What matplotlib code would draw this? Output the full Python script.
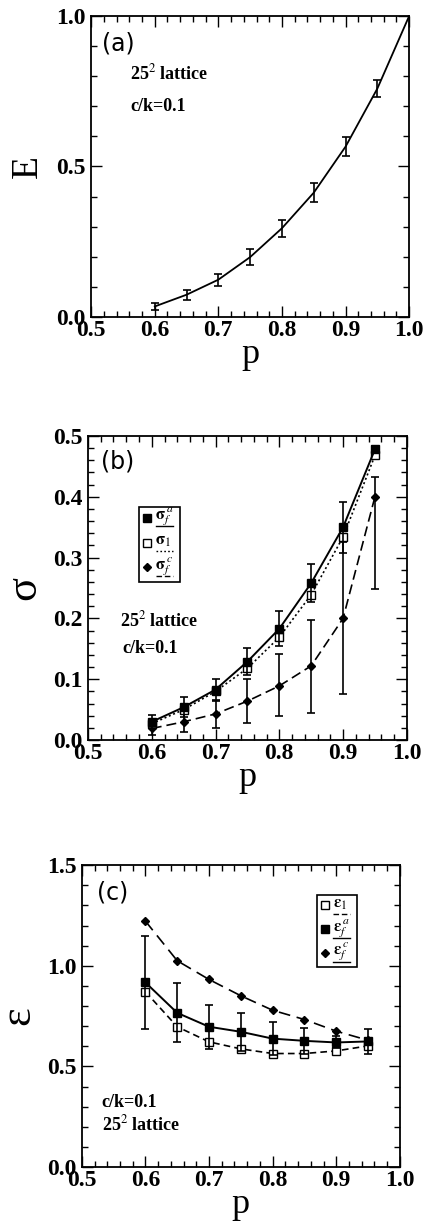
import matplotlib.pyplot as plt
from matplotlib.ticker import MultipleLocator
from matplotlib.patches import Rectangle

plt.rcParams['font.family'] = ['Liberation Serif', 'DejaVu Serif']
plt.rcParams['mathtext.fontset'] = 'stix'

# ---- datos ----
p = [0.6, 0.65, 0.7, 0.75, 0.8, 0.85, 0.9, 0.95]

# (a) E vs p
p_a = [0.6, 0.65, 0.7, 0.75, 0.8, 0.85, 0.9, 0.95, 1.0]
E = [0.035, 0.074, 0.124, 0.199, 0.295, 0.413, 0.566, 0.759, 1.0]
E_err = [0.013, 0.017, 0.02, 0.026, 0.028, 0.031, 0.031, 0.027]

# (b) sigma vs p
sig_fa = [0.030, 0.054, 0.083, 0.129, 0.183, 0.258, 0.350, 0.478]
sig_fa_err = [0.011, 0.016, 0.018, 0.022, 0.029, 0.031, 0.042, 0.0]
sig_1 = [0.027, 0.050, 0.080, 0.118, 0.169, 0.239, 0.334, 0.468]
sig_fc = [0.019, 0.030, 0.043, 0.064, 0.089, 0.122, 0.200, 0.400]
sig_fc_lo = [0.010, 0.016, 0.024, 0.036, 0.050, 0.077, 0.125, 0.152]
sig_fc_hi = [0.009, 0.014, 0.023, 0.036, 0.052, 0.075, 0.125, 0.032]

# (c) epsilon vs p
eps_1 = [0.871, 0.697, 0.622, 0.587, 0.564, 0.564, 0.577, 0.602]
eps_fa = [0.917, 0.766, 0.697, 0.672, 0.638, 0.627, 0.619, 0.624]
eps_fa_err = [0.232, 0.146, 0.11, 0.095, 0.082, 0.066, 0.03, 0.06]
eps_fc = [1.222, 1.025, 0.932, 0.851, 0.779, 0.733, 0.675, 0.630]


def estilo(ax, ymax, ymajor, yminor):
    ax.set_xlim(0.5, 1.0)
    ax.set_ylim(0, ymax)
    ax.xaxis.set_major_locator(MultipleLocator(0.1))
    ax.xaxis.set_minor_locator(MultipleLocator(0.02))
    ax.yaxis.set_major_locator(MultipleLocator(ymajor))
    ax.yaxis.set_minor_locator(MultipleLocator(yminor))
    ax.xaxis.set_major_formatter(lambda v, pos: f"{v:.1f}")
    ax.yaxis.set_major_formatter(lambda v, pos: f"{v:.1f}")
    ax.tick_params(which='both', direction='in', top=True, right=True, width=1.0)
    ax.tick_params(which='major', length=8, labelsize=17)
    ax.tick_params(which='minor', length=4)
    ax.tick_params(axis='x', pad=2)
    ax.tick_params(axis='y', pad=4)
    for lab in ax.get_xticklabels() + ax.get_yticklabels():
        lab.set_fontweight('bold')
    for s in ax.spines.values():
        s.set_linewidth(1.3)
    ax.set_xlabel('p', fontsize=26, labelpad=-2)


def leyenda(ax, x0, y0, x1, y1, entradas):
    ax.add_patch(Rectangle((x0, y0), x1 - x0, y1 - y0, transform=ax.transAxes,
                           facecolor='white', edgecolor='black', lw=1.2, zorder=10))
    n = len(entradas)
    h = (y1 - y0) / n
    for i, (mk, mfc, ms, texto, ls) in enumerate(entradas):
        yc = y1 - (i + 0.42) * h
        ax.plot([x0 + 0.025], [yc], marker=mk, mfc=mfc, mec='black', ms=ms,
                transform=ax.transAxes, zorder=11, clip_on=False)
        ax.text(x0 + 0.05, yc + 0.006, texto, transform=ax.transAxes, fontsize=12,
                fontweight='bold', va='center', ha='left', zorder=11)
        ax.plot([x0 + 0.052, x1 - 0.022], [yc - 0.028, yc - 0.028], color='black',
                ls=ls, lw=1.0, transform=ax.transAxes, zorder=11)


fig = plt.figure(figsize=(4.24, 12.22), dpi=100)

# ---------------- (a) ----------------
ax1 = fig.add_axes([0.215, 0.7406, 0.750, 0.2463])
estilo(ax1, 1.0, 0.5, 0.1)
ax1.plot(p_a, E, color='black', lw=1.3)
ax1.errorbar(p, E[:-1], yerr=E_err, fmt='none', ecolor='black', elinewidth=1.2,
             capsize=3, capthick=1.2)
ax1.set_ylabel('E', fontsize=27, labelpad=8)
ax1.text(0.035, 0.91, '(a)', transform=ax1.transAxes, fontsize=17,
         family=['DejaVu Sans'], va='center')
ax1.text(0.123, 0.81, r'25$^2$ lattice', transform=ax1.transAxes, fontsize=13,
         fontweight='bold', va='center')
ax1.text(0.123, 0.70, 'c/k=0.1', transform=ax1.transAxes, fontsize=13,
         fontweight='bold', va='center')

# ---------------- (b) ----------------
ax2 = fig.add_axes([0.2075, 0.3944, 0.752, 0.2488])
estilo(ax2, 0.5, 0.1, 0.02)
ax2.errorbar(p, sig_fa, yerr=sig_fa_err, fmt='s-', color='black', mfc='black',
             ms=6, lw=1.4, elinewidth=1.2, capsize=3, capthick=1.2, zorder=5)
ax2.plot(p, sig_1, 's', ls=(0, (1.2, 1.6)), color='black', mfc='white', ms=6,
         lw=1.2, zorder=4)
ax2.errorbar(p, sig_fc, yerr=[sig_fc_lo, sig_fc_hi], fmt='D', ls=(0, (6, 3)),
             color='black', mfc='black', ms=4, lw=1.2, elinewidth=1.2, capsize=3,
             capthick=1.2, zorder=3)
ax2.set_ylabel('σ', fontsize=32, labelpad=6)
ax2.text(0.04, 0.915, '(b)', transform=ax2.transAxes, fontsize=17,
         family=['DejaVu Sans'], va='center')
ax2.text(0.10, 0.395, r'25$^2$ lattice', transform=ax2.transAxes, fontsize=13,
         fontweight='bold', va='center')
ax2.text(0.107, 0.30, 'c/k=0.1', transform=ax2.transAxes, fontsize=13,
         fontweight='bold', va='center')
leyenda(ax2, 0.16, 0.52, 0.288, 0.766, [
    ('s', 'black', 6, r'$\mathbf{\sigma}_f^{\,a}$', '-'),
    ('s', 'white', 6, r'$\mathbf{\sigma}_1$', (0, (1.2, 1.6))),
    ('D', 'black', 4, r'$\mathbf{\sigma}_f^{\,c}$', (0, (4, 2))),
])

# ---------------- (c) ----------------
ax3 = fig.add_axes([0.193, 0.045, 0.750, 0.247])
estilo(ax3, 1.5, 0.5, 0.1)
ax3.plot(p, eps_fc, 'D', ls=(0, (7, 4)), color='black', mfc='black', ms=4,
         lw=1.2, zorder=3)
ax3.errorbar(p, eps_fa, yerr=eps_fa_err, fmt='s-', color='black', mfc='black',
             ms=6, lw=1.4, elinewidth=1.2, capsize=3, capthick=1.2, zorder=5)
ax3.plot(p, eps_1, 's', ls=(0, (4, 2.5)), color='black', mfc='white', ms=6,
         lw=1.2, zorder=4)
ax3.set_ylabel('ε', fontsize=32, labelpad=6)
ax3.text(0.047, 0.91, '(c)', transform=ax3.transAxes, fontsize=17,
         family=['DejaVu Sans'], va='center')
ax3.text(0.063, 0.215, 'c/k=0.1', transform=ax3.transAxes, fontsize=13,
         fontweight='bold', va='center')
ax3.text(0.063, 0.14, r'25$^2$ lattice', transform=ax3.transAxes, fontsize=13,
         fontweight='bold', va='center')
leyenda(ax3, 0.739, 0.662, 0.865, 0.90, [
    ('s', 'white', 6, r'$\mathbf{\varepsilon}_1$', (0, (4, 2))),
    ('s', 'black', 6, r'$\mathbf{\varepsilon}_f^{\,a}$', '-'),
    ('D', 'black', 4, r'$\mathbf{\varepsilon}_f^{\,c}$', '-'),
])

fig.savefig('out.png', dpi=100)
